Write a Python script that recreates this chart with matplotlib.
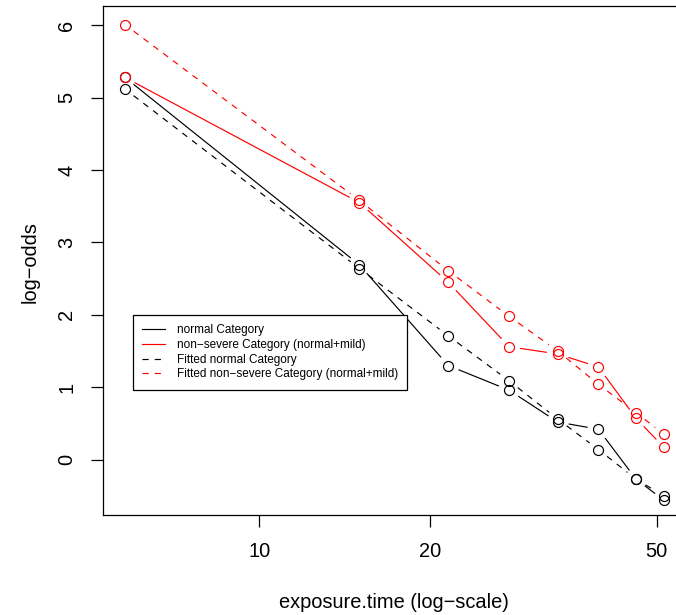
import numpy as np
import matplotlib
matplotlib.use("Agg")
import matplotlib.pyplot as plt
from matplotlib.lines import Line2D
from matplotlib.ticker import FixedLocator, NullLocator, FixedFormatter

plt.rcParams['font.family'] = ['Liberation Sans', 'DejaVu Sans']

# ---- data ----
exposure_time = [5.8, 15, 21.5, 27.5, 33.5, 39.5, 46, 51.5]
obs_normal = [5.28, 2.69, 1.30, 0.96, 0.52, 0.42, -0.27, -0.56]
obs_nonsevere = [5.28, 3.55, 2.45, 1.56, 1.46, 1.28, 0.57, 0.17]
fit_normal = [5.12, 2.64, 1.71, 1.09, 0.56, 0.14, -0.27, -0.50]
fit_nonsevere = [6.01, 3.58, 2.61, 1.98, 1.50, 1.04, 0.65, 0.35]

x_ticks = [10, 20, 50]
x_tick_labels = ["10", "20", "50"]
y_ticks = [0, 1, 2, 3, 4, 5, 6]
legend_labels = ["normal Category",
                 "non\u2212severe Category (normal+mild)",
                 "Fitted normal Category",
                 "Fitted non\u2212severe Category (normal+mild)"]

W, H = 676, 615
DPI = 100
fig = plt.figure(figsize=(W / DPI, H / DPI), dpi=DPI)
left, right, top, bottom = 103.3, 685.5, 6.3, 515.0
ax = fig.add_axes([left / W, 1 - bottom / H, (right - left) / W, (bottom - top) / H])
ax.set_xscale('log')
ax.set_xlim(10 ** 0.7255, 10 ** 1.7497)
ax.set_ylim(-0.764, 6.262)

LW = 0.85
dash = (0, (5.2, 5.2))
GAP = 11.0


def gapped(x, y, color, ls):
    pts = ax.transData.transform(np.column_stack([x, y]))
    inv = ax.transData.inverted()
    for i in range(len(pts) - 1):
        p0, p1 = pts[i], pts[i + 1]
        d = p1 - p0
        L = np.hypot(*d)
        if L <= 2 * GAP:
            continue
        u = d / L
        a = p0 + u * GAP
        b = p1 - u * GAP
        da, db = inv.transform(np.array([a, b]))
        ax.plot([da[0], db[0]], [da[1], db[1]], color=color, ls=ls, lw=LW,
                solid_capstyle='butt', dash_capstyle='butt')
    ax.plot(x, y, 'o', mfc='none', mec=color, ms=7.2, mew=LW)


gapped(exposure_time, obs_normal, 'black', '-')
gapped(exposure_time, fit_normal, 'black', dash)
gapped(exposure_time, obs_nonsevere, '#FF0000', '-')
gapped(exposure_time, fit_nonsevere, '#FF0000', dash)

ax.xaxis.set_major_locator(FixedLocator(x_ticks))
ax.xaxis.set_major_formatter(FixedFormatter(x_tick_labels))
ax.xaxis.set_minor_locator(NullLocator())
ax.set_yticks(y_ticks)
ax.set_yticklabels([str(v) for v in y_ticks])
ax.tick_params(axis='both', length=8.6, width=0.9, labelsize=14.4, color='black')
ax.tick_params(axis='x', pad=11)
ax.tick_params(axis='y', pad=11, labelrotation=90)
for lab in ax.get_yticklabels():
    lab.set_va('center')
for s in ax.spines.values():
    s.set_linewidth(0.9)

fig.text(30 / W, 1 - 262 / H, "log\u2212odds", rotation=90, ha='center', va='center', fontsize=14.4)
fig.text(394.4 / W, 1 - 603 / H, "exposure.time (log\u2212scale)", ha='center', va='center', fontsize=14.4)

handles = [Line2D([], [], color='black', lw=LW, ls='-'),
           Line2D([], [], color='#FF0000', lw=LW, ls='-'),
           Line2D([], [], color='black', lw=LW, ls=dash),
           Line2D([], [], color='#FF0000', lw=LW, ls=dash)]
leg = ax.legend(handles, legend_labels, loc='upper left',
                bbox_to_anchor=(133 / W, 1 - 315 / H), bbox_transform=fig.transFigure,
                borderaxespad=0, fontsize=8.5, handlelength=1.95, handletextpad=0.95,
                labelspacing=0.22, borderpad=0.8, fancybox=False, framealpha=1,
                edgecolor='black')
leg.get_frame().set_linewidth(0.9)

fig.savefig("out.png", dpi=DPI)
